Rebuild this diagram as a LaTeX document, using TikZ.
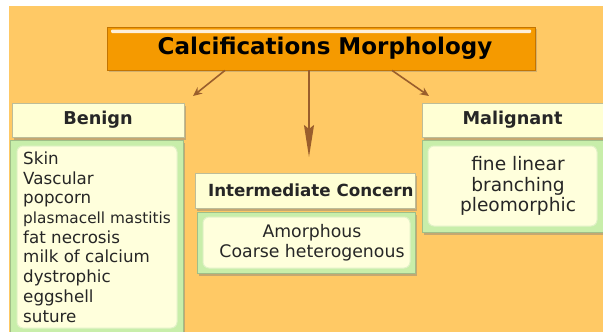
\documentclass[tikz,border=0pt]{standalone}
\usepackage{fontspec}
\setmainfont{DejaVu Sans}
\usetikzlibrary{shadows,arrows.meta}
\definecolor{bg}{HTML}{FFC965}
\definecolor{titlefill}{HTML}{F59A00}
\definecolor{titleedge}{HTML}{C47400}
\definecolor{headfill}{HTML}{FFFFD4}
\definecolor{headedge}{HTML}{BDBD98}
\definecolor{bodyouter}{HTML}{C8EEAA}
\definecolor{bodyinner}{HTML}{FFFFDC}
\definecolor{inneredge}{HTML}{E2F2C8}
\definecolor{arrowcol}{HTML}{9A5E2C}
\definecolor{txt}{HTML}{262626}
\begin{document}
\begin{tikzpicture}[x=1pt,y=-1pt,
  titlebox/.style={draw=titleedge, line width=0.8pt, fill=titlefill, inner sep=0pt,
    drop shadow={shadow xshift=1.5pt,shadow yshift=-2pt,opacity=0.35}},
  headbox/.style={draw=headedge, line width=0.6pt, fill=headfill, inner sep=0pt, text=txt,
    font=\fontsize{17.7}{21}\selectfont\bfseries,
    drop shadow={shadow xshift=2pt,shadow yshift=-3pt,opacity=0.45}},
  outerbox/.style={draw=bodyouter!80!black, line width=0.4pt, fill=bodyouter, inner sep=0pt,
    drop shadow={shadow xshift=2pt,shadow yshift=-3pt,opacity=0.45}},
  innerbox/.style={draw=inneredge, line width=1pt, fill=bodyinner, rounded corners=6pt,
    inner sep=0pt, text=txt},
  sidearrow/.style={draw=arrowcol, line width=1.6pt, -{Stealth[length=9pt,width=8pt]}},
  mainarrow/.style={draw=arrowcol, line width=1.6pt, -{Stealth[length=32pt,width=10pt,inset=4pt]}}
]
\useasboundingbox (0,0) rectangle (603,332);
\fill[bg] (9,6) rectangle (603,332);

% title
\node[titlebox, minimum width=428pt, minimum height=43pt] (title) at (321,48.5)
  {\hspace*{8pt}\fontsize{23}{26}\selectfont\bfseries Calcifications Morphology};
\fill[white, opacity=0.85, rounded corners=1pt] (111,29.5) rectangle (531,33);

% benign
\node[headbox, minimum width=172pt, minimum height=34pt] (benignhead) at (98,120) {Benign};
\node[outerbox, minimum width=173pt, minimum height=200pt] (benignbody) at (96.5,240) {};
\node[innerbox, minimum width=160pt, minimum height=182pt, align=left,
  font=\fontsize{16.7}{19.7}\selectfont] (benigntext) at (97,237)
  {Skin\\Vascular\\popcorn\\{\fontsize{15.3}{19.7}\selectfont plasmacell mastitis}\\fat necrosis\\milk of calcium\\dystrophic\\eggshell\\suture};

% intermediate
\node[headbox, minimum width=220pt, minimum height=35pt, font=\fontsize{16.7}{20}\selectfont\bfseries] (interhead) at (305,190.5)
  {\makebox[220pt][r]{Intermediate Concern\hspace*{1.5pt}}};
\node[outerbox, minimum width=218pt, minimum height=61pt] (interbody) at (306,242.5) {};
\node[innerbox, minimum width=207pt, minimum height=51pt, align=center,
  font=\fontsize{17.3}{20}\selectfont] (intertext) at (306.5,242.5)
  {\hspace*{11pt}Amorphous\\\hspace*{11pt}Coarse heterogenous};

% malignant
\node[headbox, minimum width=181pt, minimum height=34pt] (malhead) at (512.5,120) {Malignant};
\node[outerbox, minimum width=181pt, minimum height=92pt] (malbody) at (512.5,186) {};
\node[innerbox, minimum width=169pt, minimum height=80pt, align=center,
  font=\fontsize{18.6}{20.5}\selectfont] (maltext) at (512.5,186)
  {\hspace*{11pt}fine linear\\\hspace*{11pt}branching\\\hspace*{11pt}pleomorphic};

% arrows
\coordinate (tipB) at (193,96);
\coordinate (tipM) at (429,96);
\coordinate (tipI) at (309,157);
\draw[sidearrow] ([xshift=-96pt]title.south) -- (tipB);
\draw[sidearrow] ([xshift=71pt]title.south) -- (tipM);
\draw[mainarrow] ([xshift=-12pt]title.south) -- (tipI);
\end{tikzpicture}
\end{document}
